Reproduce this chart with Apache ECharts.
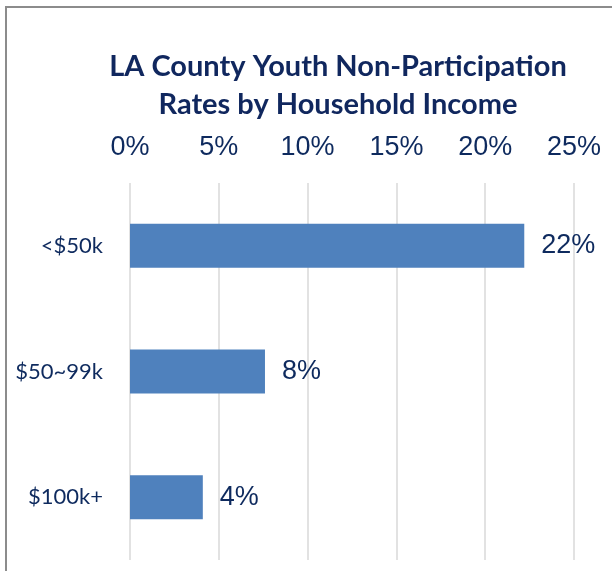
<!DOCTYPE html>
<html>
<head>
<meta charset="utf-8">
<script src="https://cdn.jsdelivr.net/npm/echarts@6/dist/echarts.min.js"></script>
<style>
  html, body { margin: 0; padding: 0; background: #fff; }
  #chart { width: 612px; height: 571px; }
</style>
</head>
<body>
<div id="chart"></div>
<script>
// Income brackets, top to bottom
const categories = ['<$50k', '$50~99k', '$100k+'];
// Youth non-participation rate (%) per bracket
const rates = [22.2, 7.6, 4.1];
// Percent axis ticks
const axisMin = 0;
const axisMax = 25;
const axisStep = 5;

const navy = '#0E2A5E';
const textFont = 'Lato, "Open Sans", sans-serif';
const numFont = '"Liberation Sans", Arial, sans-serif';

const chart = echarts.init(document.getElementById('chart'));
chart.setOption({
  animation: false,
  backgroundColor: '#ffffff',
  title: {
    text: 'LA County Youth Non-Participation\nRates by Household Income',
    left: 333,
    top: 43,
    textAlign: 'center',
    textStyle: {
      fontFamily: textFont,
      fontWeight: 'bold',
      fontSize: 29,
      lineHeight: 38,
      color: '#10275E'
    }
  },
  graphic: [{
    type: 'rect',
    shape: { x: 6, y: 7, width: 700, height: 700 },
    style: { fill: 'none', stroke: '#8C8C8C', lineWidth: 2 },
    silent: true
  }],
  grid: { left: 130, right: 38, top: 183, bottom: 11 },
  xAxis: {
    type: 'value',
    position: 'top',
    min: axisMin,
    max: axisMax,
    interval: axisStep,
    axisLine: { show: false },
    axisTick: { show: false },
    axisLabel: {
      formatter: v => v + '%',
      fontFamily: numFont,
      fontSize: 27,
      color: navy,
      margin: 22
    },
    splitLine: { show: true, lineStyle: { color: '#D9D9D9', width: 1.5 } }
  },
  yAxis: {
    type: 'category',
    data: categories,
    inverse: true,
    axisLine: { show: false },
    axisTick: { show: false },
    axisLabel: {
      fontFamily: textFont,
      fontSize: 22,
      color: navy,
      margin: 27
    }
  },
  series: [{
    type: 'bar',
    data: rates,
    barWidth: '35%',
    itemStyle: { color: '#4F81BD' },
    label: {
      show: true,
      position: 'right',
      distance: 17,
      formatter: p => Math.round(p.value) + '%',
      fontFamily: numFont,
      fontSize: 27,
      color: navy
    }
  }]
});
</script>
</body>
</html>
